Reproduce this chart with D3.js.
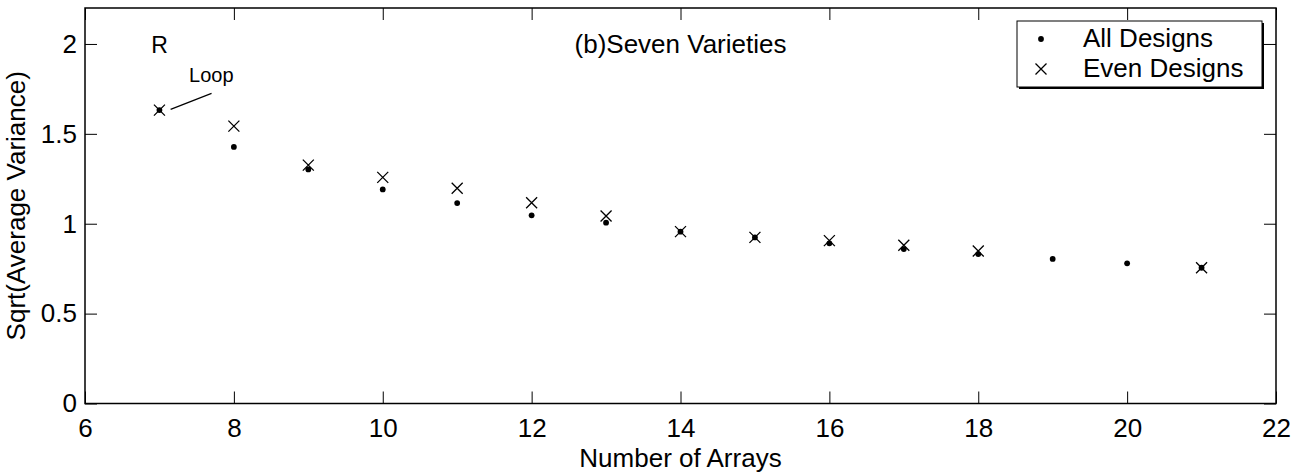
<!DOCTYPE html>
<html>
<head>
<meta charset="utf-8">
<script src="https://cdn.jsdelivr.net/npm/d3@7"></script>
<style>
  body { margin: 0; background: #fff; }
  text { font-family: "Liberation Sans", Arial, sans-serif; fill: #000; }
  .tick text { font-size: 26px; }
</style>
</head>
<body>
<script>
// data
var allArrays = [7, 8, 9, 10, 11, 12, 13, 14, 15, 16, 17, 18, 19, 20, 21];
var allValues = [1.632, 1.427, 1.302, 1.191, 1.115, 1.047, 1.006, 0.956, 0.924, 0.891, 0.859, 0.831, 0.804, 0.780, 0.755];
var evenArrays = [7, 8, 9, 10, 11, 12, 13, 14, 15, 16, 17, 18, 21];
var evenValues = [1.632, 1.543, 1.326, 1.258, 1.197, 1.117, 1.043, 0.956, 0.924, 0.906, 0.880, 0.848, 0.755];
var xTicks = [6, 8, 10, 12, 14, 16, 18, 20, 22];
var yTicks = [0, 0.5, 1, 1.5, 2];
var legendLabels = ["All Designs", "Even Designs"];

var W = 1295, H = 475;
var margin = { top: 8, right: 19, bottom: 71.5, left: 85 };
var width = W - margin.left - margin.right,
    height = H - margin.top - margin.bottom;

var x = d3.scaleLinear().domain([6, 22]).range([0, width]);
var y = d3.scaleLinear().domain([0, 2.2]).range([height, 0]);

var svg = d3.select("body").append("svg")
    .attr("width", W)
    .attr("height", H);

var g = svg.append("g")
    .attr("transform", "translate(" + margin.left + "," + margin.top + ")");

// axes, ticks pointing inward on all four sides
function styleAxis(a) {
    a.select(".domain").remove();
    a.selectAll(".tick line").attr("stroke", "#000").attr("stroke-width", 1);
}

g.append("g")
    .attr("transform", "translate(0," + height + ")")
    .call(d3.axisBottom(x).tickValues(xTicks).tickSizeInner(-12).tickSizeOuter(0).tickPadding(15))
    .call(styleAxis);

g.append("g")
    .call(d3.axisTop(x).tickValues(xTicks).tickSizeInner(-12).tickSizeOuter(0).tickFormat(""))
    .call(styleAxis);

g.append("g")
    .call(d3.axisLeft(y).tickValues(yTicks).tickSizeInner(-12).tickSizeOuter(0).tickPadding(8)
        .tickFormat(function(d) { return d3.format("")(d); }))
    .call(styleAxis);

g.append("g")
    .attr("transform", "translate(" + width + ",0)")
    .call(d3.axisRight(y).tickValues(yTicks).tickSizeInner(-12).tickSizeOuter(0).tickFormat(""))
    .call(styleAxis);

g.selectAll(".tick text").attr("fill", "#000");

// frame
g.append("rect")
    .attr("width", width)
    .attr("height", height)
    .attr("fill", "none")
    .attr("stroke", "#000")
    .attr("stroke-width", 1.5);

// axis labels
svg.append("text")
    .attr("x", margin.left + width / 2)
    .attr("y", 466.5)
    .attr("text-anchor", "middle")
    .style("font-size", "26px")
    .text("Number of Arrays");

svg.append("text")
    .attr("transform", "translate(25," + (margin.top + height / 2) + ") rotate(-90)")
    .attr("text-anchor", "middle")
    .style("font-size", "26px")
    .text("Sqrt(Average Variance)");

// title and annotations
g.append("text")
    .attr("x", width / 2)
    .attr("y", 45.3)
    .attr("text-anchor", "middle")
    .style("font-size", "26px")
    .text("(b)Seven Varieties");

g.append("text")
    .attr("x", x(7))
    .attr("y", y(1.95))
    .attr("text-anchor", "middle")
    .style("font-size", "23px")
    .text("R");

g.append("text")
    .attr("x", x(7.398))
    .attr("y", y(1.79))
    .style("font-size", "20px")
    .text("Loop");

g.append("line")
    .attr("x1", x(7.15)).attr("y1", y(1.636))
    .attr("x2", x(7.70)).attr("y2", y(1.725))
    .attr("stroke", "#000")
    .attr("stroke-width", 1.2);

// markers
var allData = allArrays.map(function(d, i) { return { n: d, v: allValues[i] }; });
var evenData = evenArrays.map(function(d, i) { return { n: d, v: evenValues[i] }; });

var crossPath = "M-5.5,-5.5L5.5,5.5M-5.5,5.5L5.5,-5.5";

g.selectAll(".dot")
    .data(allData)
    .enter().append("circle")
    .attr("class", "dot")
    .attr("cx", function(d) { return x(d.n); })
    .attr("cy", function(d) { return y(d.v); })
    .attr("r", 2.9)
    .attr("fill", "#000");

g.selectAll(".cross")
    .data(evenData)
    .enter().append("path")
    .attr("class", "cross")
    .attr("transform", function(d) { return "translate(" + x(d.n) + "," + y(d.v) + ")"; })
    .attr("d", crossPath)
    .attr("stroke", "#000")
    .attr("stroke-width", 1.3)
    .attr("fill", "none");

// legend with shadow, like the original
var lx = 1017, ly = 21, lw = 245, lh = 66;
var legend = svg.append("g");

legend.append("rect")
    .attr("x", lx + 2).attr("y", ly + 2)
    .attr("width", lw).attr("height", lh)
    .attr("fill", "#000");

legend.append("rect")
    .attr("x", lx).attr("y", ly)
    .attr("width", lw).attr("height", lh)
    .attr("fill", "#fff")
    .attr("stroke", "#000")
    .attr("stroke-width", 1);

var rows = [39, 69];

legend.append("circle")
    .attr("cx", lx + 24).attr("cy", rows[0])
    .attr("r", 2.9)
    .attr("fill", "#000");

legend.append("path")
    .attr("transform", "translate(" + (lx + 24) + "," + rows[1] + ")")
    .attr("d", crossPath)
    .attr("stroke", "#000")
    .attr("stroke-width", 1.3);

legend.selectAll(".ltext")
    .data(legendLabels)
    .enter().append("text")
    .attr("class", "ltext")
    .attr("x", lx + 66)
    .attr("y", function(d, i) { return [46.7, 76.7][i]; })
    .style("font-size", "26px")
    .text(function(d) { return d; });
</script>
</body>
</html>
